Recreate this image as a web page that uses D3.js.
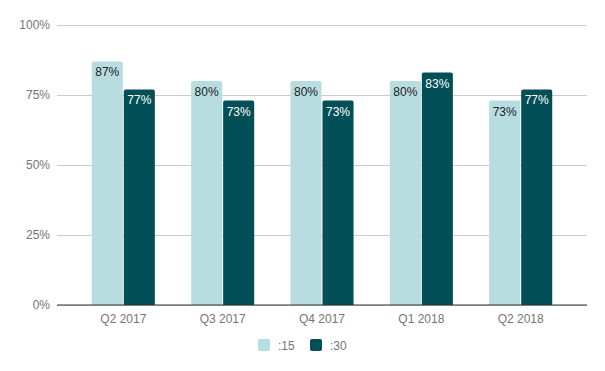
<!DOCTYPE html>
<html>
<head>
<meta charset="utf-8">
<script src="https://cdn.jsdelivr.net/npm/d3@7"></script>
<style>
  body { margin: 0; background: #fff; }
  text { font-family: "Liberation Sans", Arial, sans-serif; }
</style>
</head>
<body>
<svg id="chart" width="605" height="371"></svg>
<script>
const quarters = ["Q2 2017", "Q3 2017", "Q4 2017", "Q1 2018", "Q2 2018"];
const seriesNames = [":15", ":30"];
const values15 = [87, 80, 80, 80, 73];
const values30 = [77, 73, 73, 83, 77];
const yTicks = [0, 25, 50, 75, 100];

const colors = { ":15": "#b7dde1", ":30": "#034f57" };
const labelColors = { ":15": "#222222", ":30": "#ffffff" };

const plotLeft = 57, plotRight = 587, plotTop = 25, plotBottom = 305;

const svg = d3.select("#chart");

const x = d3.scaleBand()
  .domain(quarters)
  .range([plotLeft, plotRight])
  .paddingInner(0.365)
  .paddingOuter(0.35);

const xInner = d3.scaleBand()
  .domain(seriesNames)
  .range([0, x.bandwidth()])
  .paddingInner(0.03);

const y = d3.scaleLinear()
  .domain([0, 100])
  .range([plotBottom, plotTop]);

// gridlines + y labels
const yAxisG = svg.append("g")
  .attr("transform", "translate(" + plotLeft + ",0)")
  .call(d3.axisLeft(y).tickValues(yTicks).tickSize(-(plotRight - plotLeft)).tickFormat(d => d + "%"));
yAxisG.select(".domain").remove();
yAxisG.selectAll(".tick line").attr("stroke", "#cccccc");
yAxisG.selectAll(".tick text")
  .attr("x", -7)
  .attr("fill", "#757575")
  .style("font-size", "12px");

// bars
const rows = quarters.map((q, i) => ({ q, vals: [
  { s: ":15", v: values15[i] },
  { s: ":30", v: values30[i] }
]}));

const groups = svg.selectAll("g.grp")
  .data(rows)
  .enter()
  .append("g")
  .attr("class", "grp")
  .attr("transform", d => "translate(" + x(d.q) + ",0)");

const r = 2;
groups.selectAll("path")
  .data(d => d.vals)
  .enter()
  .append("path")
  .attr("fill", d => colors[d.s])
  .attr("d", d => {
    const x0 = xInner(d.s), w = xInner.bandwidth();
    const y0 = y(d.v), y1 = y(0);
    return "M" + x0 + "," + y1 +
      "V" + (y0 + r) +
      "Q" + x0 + "," + y0 + " " + (x0 + r) + "," + y0 +
      "H" + (x0 + w - r) +
      "Q" + (x0 + w) + "," + y0 + " " + (x0 + w) + "," + (y0 + r) +
      "V" + y1 + "Z";
  });

groups.selectAll("text")
  .data(d => d.vals)
  .enter()
  .append("text")
  .attr("x", d => xInner(d.s) + xInner.bandwidth() / 2)
  .attr("y", d => y(d.v) + 15)
  .attr("text-anchor", "middle")
  .attr("fill", d => labelColors[d.s])
  .style("font-size", "12px")
  .text(d => d.v + "%");

// baseline
svg.append("line")
  .attr("x1", plotLeft).attr("x2", plotRight)
  .attr("y1", y(0)).attr("y2", y(0))
  .attr("stroke", "#333333")
  .attr("stroke-width", 1);

// x labels
const xAxisG = svg.append("g")
  .attr("transform", "translate(0," + plotBottom + ")")
  .call(d3.axisBottom(x).tickSize(0));
xAxisG.select(".domain").remove();
xAxisG.selectAll(".tick text")
  .attr("dy", "0")
  .attr("y", 18)
  .attr("fill", "#757575")
  .style("font-size", "12px");

// legend
const legendX = [258, 310];
const legend = svg.selectAll("g.leg")
  .data(seriesNames)
  .enter()
  .append("g")
  .attr("class", "leg")
  .attr("transform", (d, i) => "translate(" + legendX[i] + ",339)");
legend.append("rect")
  .attr("width", 12).attr("height", 12)
  .attr("rx", 2)
  .attr("fill", d => colors[d]);
legend.append("text")
  .attr("x", 20).attr("y", 10.5)
  .attr("fill", "#757575")
  .style("font-size", "12px")
  .text(d => d);
</script>
</body>
</html>
